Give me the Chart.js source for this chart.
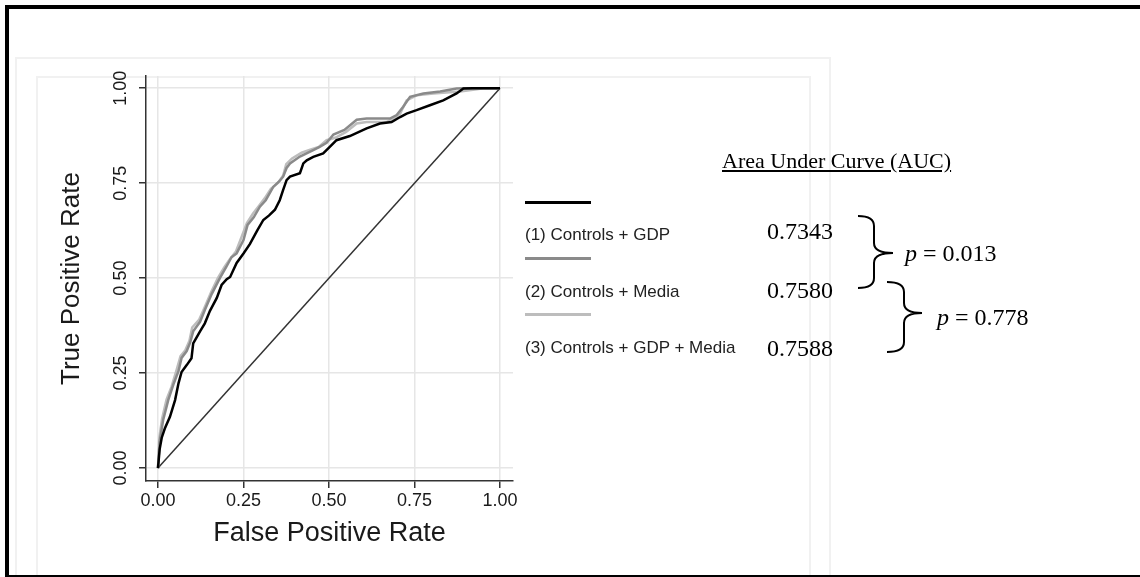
<!DOCTYPE html>
<html>
<head>
<meta charset="utf-8">
<script src="https://cdn.jsdelivr.net/npm/chart.js@4"></script>
<style>
html,body{margin:0;padding:0;background:#fff;}
#wrap{position:relative;width:1140px;height:577px;overflow:hidden;background:#fff;}
.abs{position:absolute;}
#box1{left:15px;top:57px;width:816px;height:600px;border:2px solid #f1f1f1;box-sizing:border-box;}
#box2{left:36px;top:76px;width:775px;height:600px;border:2px solid #f1f1f1;box-sizing:border-box;}
#frame{left:5px;top:5px;width:1200px;height:572px;box-sizing:border-box;border-top:4px solid #000;border-left:4px solid #000;border-bottom:2px solid #000;}
canvas{position:absolute;left:0;top:0;}
.leg{font-family:"Liberation Sans",Arial,sans-serif;font-size:17px;line-height:17px;height:17px;color:#222;white-space:nowrap;}
.key{height:3px;width:66px;left:525px;}
.serif{font-family:"Liberation Serif","Times New Roman",serif;color:#000;white-space:nowrap;}
.val{font-size:24px;line-height:24px;height:24px;}
</style>
</head>
<body>
<div id="wrap">
  <div id="box1" class="abs"></div>
  <div id="box2" class="abs"></div>
  <canvas id="c" width="1140" height="577"></canvas>
  <div id="frame" class="abs"></div>

  <div id="legend"></div>

  <div class="abs serif" style="left:722px;top:150px;font-size:22px;line-height:22px;height:22px;text-decoration:underline;">Area Under Curve (AUC)</div>
  <div id="aucs"></div>
  <div class="abs serif val" style="left:905px;top:241px;"><i>p</i> = 0.013</div>
  <div class="abs serif val" style="left:937px;top:305px;"><i>p</i> = 0.778</div>

  <svg class="abs" style="left:0;top:0;" width="1140" height="577">
    <path d="M858,216 Q874,216 874,226 L874,243 Q874,253 893,253 Q874,253 874,263 L874,278 Q874,288 858,288" fill="none" stroke="#000" stroke-width="2"/>
    <path d="M887,282 Q904,282 904,292 L904,303 Q904,313 922,313 Q904,313 904,323 L904,342 Q904,352 887,352" fill="none" stroke="#000" stroke-width="2"/>
  </svg>
</div>

<script>
// ---- data ----
const seriesNames = ['(1) Controls + GDP', '(2) Controls + Media', '(3) Controls + GDP + Media'];
const aucValues = ['0.7343', '0.7580', '0.7588'];
const tickValues = [0, 0.25, 0.5, 0.75, 1];
const tickLabels = ['0.00', '0.25', '0.50', '0.75', '1.00'];
const xTitle = 'False Positive Rate';
const yTitle = 'True Positive Rate';

const fprGDP = [0,0.005,0.011,0.02,0.035,0.05,0.06,0.069,0.084,0.098,0.103,0.123,0.137,0.152,0.172,0.186,0.201,0.211,0.23,0.25,0.269,0.29,0.308,0.325,0.342,0.356,0.366,0.376,0.386,0.415,0.425,0.435,0.454,0.483,0.503,0.522,0.561,0.61,0.649,0.683,0.708,0.727,0.756,0.795,0.834,0.873,0.893,0.92,1];
const tprGDP = [0,0.05,0.08,0.104,0.135,0.179,0.223,0.253,0.271,0.289,0.328,0.36,0.381,0.414,0.448,0.482,0.497,0.503,0.54,0.565,0.59,0.625,0.653,0.665,0.68,0.705,0.732,0.758,0.767,0.776,0.802,0.81,0.819,0.828,0.846,0.863,0.874,0.894,0.907,0.911,0.924,0.933,0.942,0.955,0.968,0.986,0.999,1,1];

const fprMedia = [0,0.005,0.015,0.03,0.045,0.06,0.069,0.084,0.094,0.103,0.123,0.137,0.157,0.181,0.2,0.215,0.23,0.25,0.262,0.28,0.298,0.315,0.337,0.355,0.366,0.376,0.386,0.415,0.454,0.474,0.493,0.513,0.545,0.581,0.61,0.678,0.698,0.717,0.737,0.776,0.825,0.873,0.9,1];
const tprMedia = [0,0.07,0.126,0.179,0.22,0.255,0.29,0.308,0.33,0.36,0.385,0.416,0.458,0.5,0.53,0.555,0.565,0.6,0.64,0.66,0.688,0.705,0.74,0.755,0.767,0.79,0.802,0.82,0.837,0.846,0.856,0.878,0.89,0.917,0.92,0.92,0.929,0.951,0.977,0.986,0.991,0.999,1,1];

const fprBoth = [0,0.004,0.012,0.025,0.04,0.055,0.066,0.08,0.092,0.1,0.12,0.135,0.155,0.175,0.195,0.21,0.228,0.245,0.26,0.278,0.295,0.312,0.33,0.35,0.366,0.375,0.392,0.42,0.445,0.47,0.493,0.52,0.55,0.581,0.61,0.669,0.69,0.708,0.727,0.756,0.805,0.883,0.932,0.95,1];
const tprBoth = [0,0.08,0.13,0.18,0.215,0.26,0.295,0.31,0.335,0.37,0.39,0.42,0.462,0.5,0.53,0.55,0.57,0.61,0.645,0.67,0.69,0.71,0.735,0.75,0.77,0.8,0.815,0.83,0.838,0.845,0.863,0.87,0.885,0.907,0.911,0.911,0.92,0.933,0.968,0.981,0.986,0.991,0.997,1,1];

const fprRef = [0, 1];
const tprRef = [0, 1];

// ---- styles ----
const seriesColors = ['#000000', '#8a8a8a', '#bdbdbd'];
const FONT = '"Liberation Sans", Arial, sans-serif';

function pts(xs, ys){ return xs.map((v,i)=>({x:v, y:ys[i]})); }

// legend and AUC values (HTML text)
const legend = document.getElementById('legend');
const keyTops = [201, 257, 313];
const labelTops = [226, 283, 339];
seriesNames.forEach((n,i)=>{
  const k = document.createElement('div');
  k.className = 'abs key'; k.style.top = keyTops[i]+'px'; k.style.background = seriesColors[i];
  legend.appendChild(k);
  const t = document.createElement('div');
  t.className = 'abs leg'; t.style.left = '525px'; t.style.top = labelTops[i]+'px'; t.textContent = n;
  legend.appendChild(t);
});
const aucs = document.getElementById('aucs');
const aucTops = [219, 278, 336];
aucValues.forEach((v,i)=>{
  const d = document.createElement('div');
  d.className = 'abs serif val'; d.style.left = '767px'; d.style.top = aucTops[i]+'px'; d.textContent = v;
  aucs.appendChild(d);
});

const annot = {
  id: 'annot',
  afterDraw(chart){
    const {ctx, chartArea, scales:{x, y}} = chart;
    ctx.save();
    ctx.fillStyle = '#1a1a1a';
    ctx.textAlign = 'center';
    ctx.textBaseline = 'middle';
    ctx.font = '18px ' + FONT;
    tickValues.forEach((v,i)=>{
      ctx.fillText(tickLabels[i], x.getPixelForValue(v), 501);
      ctx.save();
      ctx.translate(121, y.getPixelForValue(v));
      ctx.rotate(-Math.PI/2);
      ctx.fillText(tickLabels[i], 0, 0);
      ctx.restore();
    });
    ctx.font = '27px ' + FONT;
    ctx.fillText(xTitle, (chartArea.left + chartArea.right)/2, 534);
    ctx.save();
    ctx.font = '26px ' + FONT;
    ctx.translate(72, (chartArea.top + chartArea.bottom)/2);
    ctx.rotate(-Math.PI/2);
    ctx.fillText(yTitle, 0, 0);
    ctx.restore();
    ctx.restore();
  }
};

const axisCommon = {
  type: 'linear',
  afterBuildTicks: s => { s.ticks = tickValues.map(v => ({value: v})); },
  ticks: { display: false },
  grid: { color: '#e6e6e6', lineWidth: 1.5, tickColor: '#333', tickLength: 7, tickWidth: 1.5, drawTicks: true },
  border: { color: '#333', width: 1.5 }
};

new Chart(document.getElementById('c'), {
  type: 'scatter',
  data: {
    datasets: [
      { label: seriesNames[0], data: pts(fprGDP, tprGDP), showLine: true, borderColor: seriesColors[0], borderWidth: 2.5, pointRadius: 0, tension: 0 },
      { label: seriesNames[1], data: pts(fprMedia, tprMedia), showLine: true, borderColor: seriesColors[1], borderWidth: 2.5, pointRadius: 0, tension: 0 },
      { label: seriesNames[2], data: pts(fprBoth, tprBoth), showLine: true, borderColor: seriesColors[2], borderWidth: 2.5, pointRadius: 0, tension: 0 },
      { label: 'reference', data: pts(fprRef, tprRef), showLine: true, borderColor: '#333', borderWidth: 1.5, pointRadius: 0 }
    ]
  },
  options: {
    responsive: false,
    animation: false,
    devicePixelRatio: 1,
    layout: { padding: { left: 0, top: 76, right: 627, bottom: 0 } },
    plugins: { legend: { display: false }, tooltip: { enabled: false } },
    scales: {
      x: Object.assign({}, axisCommon, { min: -0.035, max: 1.038, afterFit: s => { s.height = 96; } }),
      y: Object.assign({}, axisCommon, { min: -0.034, max: 1.032, afterFit: s => { s.width = 146; } })
    }
  },
  plugins: [annot]
});
</script>
</body>
</html>
